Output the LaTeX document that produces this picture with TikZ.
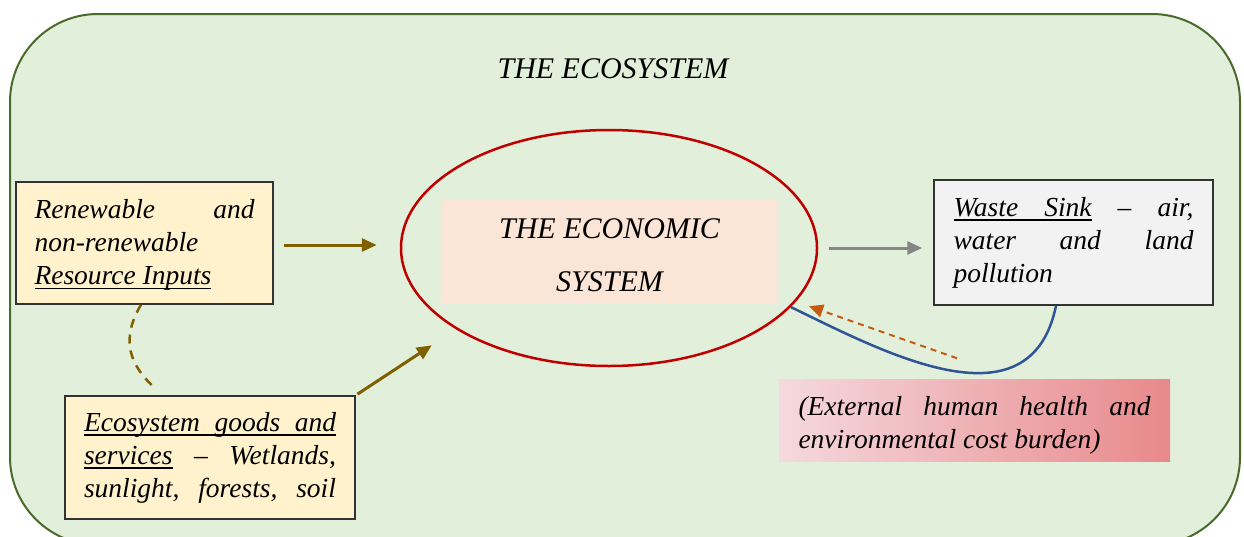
\documentclass[tikz,border=0pt]{standalone}
\usepackage{fontspec}
\setmainfont{Liberation Serif}
\usetikzlibrary{arrows.meta,shapes.geometric}
\definecolor{ecogreen}{HTML}{E2EFDA}
\definecolor{ecoline}{HTML}{4A6A2C}
\definecolor{resfill}{HTML}{FFF2CC}
\definecolor{econfill}{HTML}{FBE5D6}
\definecolor{econred}{HTML}{C00000}
\definecolor{inputolive}{HTML}{7F6000}
\definecolor{sinkfill}{HTML}{F2F2F2}
\definecolor{sinkblue}{HTML}{2F5597}
\definecolor{burdenorange}{HTML}{C55A11}
\definecolor{pinkleft}{HTML}{F5D9DE}
\definecolor{pinkright}{HTML}{E8898B}
\tolerance=10000
\hbadness=10000
\newcommand\ulword[1]{\setbox0\hbox{#1}\rlap{\vrule height -3pt depth 4.5pt width\wd0}\box0\relax}
\newcommand\ulgap{\leaders\hrule height -3pt depth 4.5pt\hskip\fontdimen2\font plus\fontdimen3\font minus\fontdimen4\font}
\begin{document}
\begin{tikzpicture}[x=1pt, y=-1pt,
		box/.style={draw=black!80, line width=1.5pt, inner xsep=18.5pt, inner ysep=0pt, align=justify, font=\fontsize{27.5}{33}\selectfont\itshape},
		flow/.style={line width=3pt, -{Triangle[length=15pt,width=13pt]}}]
				\useasboundingbox (0,0) rectangle (1244,536);
				\draw[fill=ecogreen, draw=ecoline, line width=2pt, rounded corners=88pt] (10,14) rectangle (1240,545);
				\node[font=\fontsize{30}{36}\selectfont\itshape] (ecosys) at (613,69) {THE ECOSYSTEM};
				\node[box, fill=resfill, text width=220pt, minimum width=257pt, minimum height=122pt] (res) at (144.5,243) {\rule{0pt}{23pt}Renewable and\linebreak non-renewable\newline \ulword{Resource}\ulgap\ulword{Inputs}};
				\node[box, fill=resfill, text width=252pt, minimum width=290pt, minimum height=123pt] (eco) at (210,457.5) {\ulword{Ecosystem}\ulgap\ulword{goods}\ulgap\ulword{and}\linebreak \ulword{services} -- Wetlands,\linebreak sunlight, forests, soil\parfillskip=0pt\par};
				\node[box, fill=sinkfill, text width=240pt, minimum width=279pt, minimum height=125pt] (sink) at (1073.5,242.5) {\ulword{Waste}\ulgap\ulword{Sink} -- air,\linebreak water and land\linebreak pollution};
				\node[box, draw=none, left color=pinkleft, right color=pinkright, text width=352pt, minimum width=391pt, minimum height=82pt] (burden) at (974.5,420) {\rule{0pt}{30pt}(External human health and\linebreak environmental cost burden)};
				\node[ellipse, draw=econred, line width=2.5pt, minimum width=416pt, minimum height=236pt] (econ) at (609,248) {};
				\node[fill=econfill, minimum width=335pt, minimum height=104pt, align=center, font=\fontsize{30}{53}\selectfont\itshape] (econlbl) at (609.5,251) {\rule{0pt}{28pt}THE ECONOMIC\\SYSTEM};
				\draw[flow, draw=inputolive, shorten <=10pt, shorten >=23pt] ([yshift=-2pt]res.east) -- ([yshift=-2pt]res.east -| econ.west);
				\draw[flow, draw=inputolive, shorten <=2pt, shorten >=29pt] (eco.north east) -- (econ.208);
				\draw[flow, draw=gray!95, shorten <=11pt, shorten >=11pt] (econ.east) -- (econ.east -| sink.west);
				\draw[inputolive, line width=2.5pt, dash pattern=on 9pt off 7pt] ([xshift=-3.5pt]res.south) .. controls (120,340) and (130,365) .. ([xshift=-56pt, yshift=8pt]eco.north);
				\draw[sinkblue, line width=2.5pt] (econ.342) .. controls (880,350) and (1030,432) .. ([xshift=-17.5pt]sink.south);
				\draw[burdenorange, line width=2pt, dash pattern=on 6pt off 5pt, -{Triangle[length=14pt,width=13pt]}, shorten >=14pt] ([xshift=-17.5pt, yshift=20pt]burden.north) -- (econ.344);
			\end{tikzpicture}
\end{document}
